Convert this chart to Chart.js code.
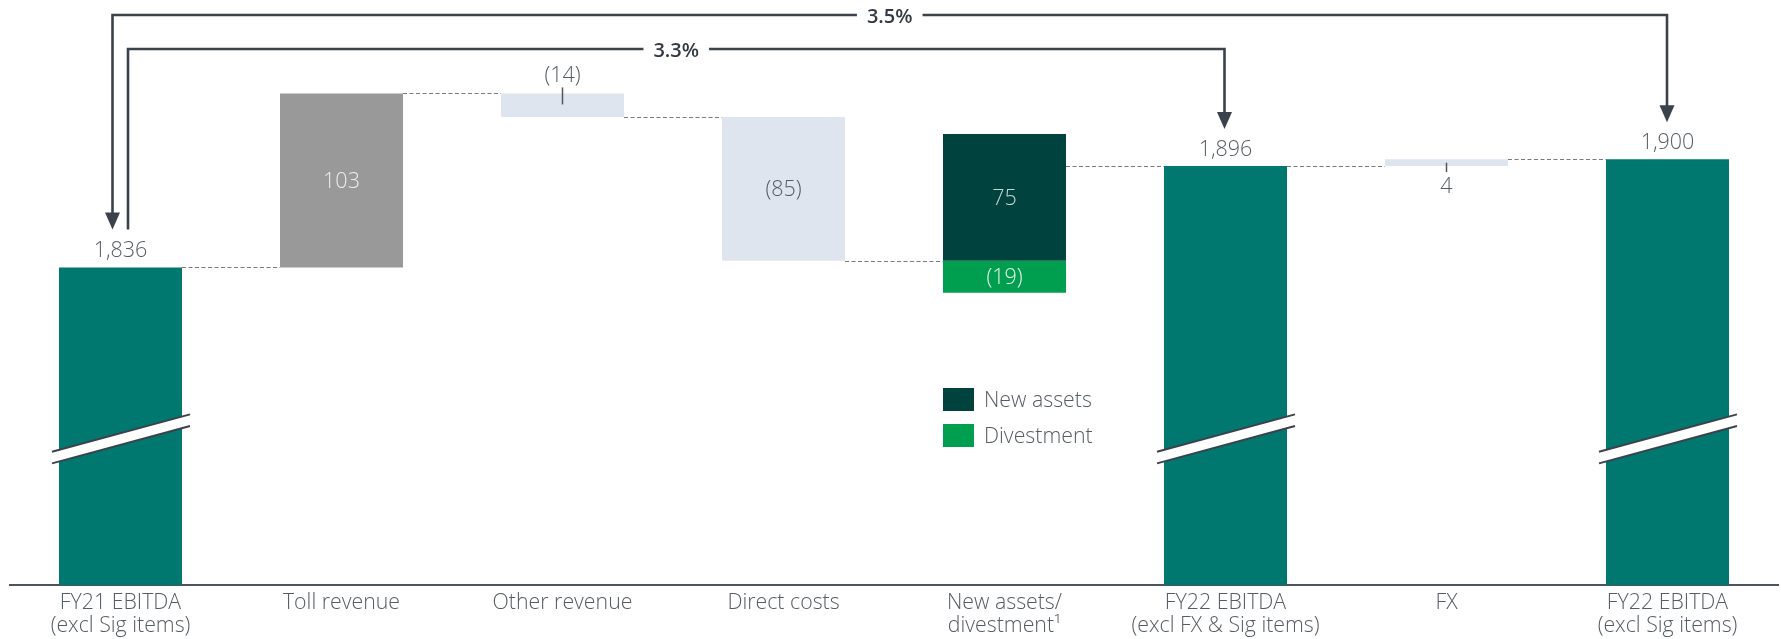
<!DOCTYPE html>
<html>
<head>
<meta charset="utf-8">
<script src="https://cdn.jsdelivr.net/npm/chart.js@4.4.1/dist/chart.umd.min.js"></script>
<style>
  html, body { margin: 0; padding: 0; background: #ffffff; }
  #wrap { width: 1781px; height: 639px; position: relative; }
</style>
</head>
<body>
<div id="wrap"><canvas id="c" width="1781" height="639"></canvas></div>
<script>
// ---------------- DATA ----------------
const categories = [
  ['FY21 EBITDA', '(excl Sig items)'],
  'Toll revenue',
  'Other revenue',
  'Direct costs',
  ['New assets/', 'divestment\u00B9'],
  ['FY22 EBITDA', '(excl FX & Sig items)'],
  'FX',
  ['FY22 EBITDA', '(excl Sig items)']
];
// totals (null = movement column)
const totalValues = [1836, null, null, null, null, 1896, null, 1900];
// movements for non-total columns (New assets column holds the new-assets part)
const movementValues = [null, 103, -14, -85, 75, null, 4, null];
// divestment part of the New assets/divestment column
const divestmentValues = [null, null, null, null, -19, null, null, null];
const legendLabels = ['New assets', 'Divestment'];
const growthLabels = ['3.3%', '3.5%'];
const axisFloor = 1648;      // broken axis starts here
const axisCeil = 1988.4;
const breakValue = 1734.5;   // where the axis-break mark sits on total bars

// ---------------- STYLE ----------------
const FONT = "'Open Sans', 'Noto Sans', sans-serif";
const TEAL = '#00786f', GREY = '#999999', PALE = '#dfe5ef', DARK = '#00423d', GREEN = '#009e4f';
const LINE = '#3a424b', TXT = '#555c63';
const barColors = [TEAL, GREY, PALE, PALE, DARK, TEAL, PALE, TEAL];

// ---------------- BUILD FLOATING BARS ----------------
const mainData = [], divData = [], levels = [];
let level = 0;
for (let i = 0; i < categories.length; i++) {
  if (totalValues[i] !== null) {
    mainData.push([axisFloor, totalValues[i]]);
    level = totalValues[i];
    divData.push(null);
  } else {
    const m = movementValues[i];
    mainData.push(m >= 0 ? [level, level + m] : [level + m, level]);
    if (divestmentValues[i] !== null) {
      const d = divestmentValues[i];
      divData.push([level + d, level]);
      level = level + m + d;
    } else {
      divData.push(null);
      level = level + m;
    }
  }
  levels.push(level);
}

function fmt(v) {
  const s = Math.abs(v).toLocaleString('en-US');
  return v < 0 ? '(' + s + ')' : s;
}

const overlay = {
  id: 'overlay',
  afterDatasetsDraw(chart) {
    const ctx = chart.ctx;
    const ys = chart.scales.y;
    const bars = chart.getDatasetMeta(0).data;
    const divBars = chart.getDatasetMeta(1).data;
    const ca = chart.chartArea;
    ctx.save();

    // connectors
    ctx.strokeStyle = '#7a7a7a';
    ctx.lineWidth = 1;
    ctx.setLineDash([4, 2.5]);
    for (let i = 0; i < bars.length - 1; i++) {
      const y = Math.round(ys.getPixelForValue(levels[i])) + 0.5;
      ctx.beginPath();
      ctx.moveTo(bars[i].x + bars[i].width / 2, y);
      ctx.lineTo(bars[i + 1].x - bars[i + 1].width / 2, y);
      ctx.stroke();
    }
    ctx.setLineDash([]);

    // break marks on total bars
    const yc = ys.getPixelForValue(breakValue);
    for (let i = 0; i < bars.length; i++) {
      if (totalValues[i] === null) continue;
      const L = bars[i].x - bars[i].width / 2 - 7;
      const R = bars[i].x + bars[i].width / 2 + 8;
      ctx.fillStyle = '#ffffff';
      ctx.beginPath();
      ctx.moveTo(L, yc + 12.9); ctx.lineTo(R, yc - 24.5);
      ctx.lineTo(R, yc - 12.9); ctx.lineTo(L, yc + 24.5);
      ctx.closePath(); ctx.fill();
      ctx.strokeStyle = LINE; ctx.lineWidth = 2;
      ctx.beginPath(); ctx.moveTo(L, yc + 12.9); ctx.lineTo(R, yc - 24.5); ctx.stroke();
      ctx.beginPath(); ctx.moveTo(L, yc + 24.5); ctx.lineTo(R, yc - 12.9); ctx.stroke();
    }

    // value labels
    ctx.font = '300 21.5px ' + FONT;
    ctx.textAlign = 'center';
    ctx.textBaseline = 'alphabetic';
    const text = (t, x, y, c) => { ctx.fillStyle = c; ctx.fillText(t, x, y); };
    const tick = (x, y1, y2) => {
      ctx.strokeStyle = '#555'; ctx.lineWidth = 1.5;
      ctx.beginPath(); ctx.moveTo(x, y1); ctx.lineTo(x, y2); ctx.stroke();
    };
    for (let i = 0; i < bars.length; i++) {
      const b = bars[i];
      const top = Math.min(b.y, b.base), bot = Math.max(b.y, b.base);
      const mid = (top + bot) / 2;
      if (totalValues[i] !== null) {
        text(fmt(totalValues[i]), b.x, top - 10, TXT);
      } else {
        const v = movementValues[i];
        const label = fmt(v);
        if (bot - top > 40) {
          let c = TXT;
          if (barColors[i] === GREY) c = '#ededed';
          if (barColors[i] === DARK) c = '#c9d6d3';
          text(label, b.x, mid + 7.5, c);
        } else if (v < 0) {
          tick(b.x, top - 6, top + 11);
          text(label, b.x, top - 11, TXT);
        } else {
          tick(b.x, mid, bot + 6);
          text(label, b.x, bot + 26.5, TXT);
        }
      }
      if (divestmentValues[i] !== null) {
        const d = divBars[i];
        const dm = (d.y + d.base) / 2;
        text(fmt(divestmentValues[i]), d.x, dm + 7.5, '#e6f4ea');
      }
    }

    // growth arrows
    const headW = 15, headH = 17;
    const head = (x, tip) => {
      ctx.fillStyle = LINE;
      ctx.beginPath();
      ctx.moveTo(x - headW / 2, tip - headH);
      ctx.lineTo(x + headW / 2, tip - headH);
      ctx.lineTo(x, tip);
      ctx.closePath(); ctx.fill();
    };
    const tip0 = ys.getPixelForValue(totalValues[0]) - 38;
    const tip1 = ys.getPixelForValue(totalValues[5]) - 37;
    const tip2 = ys.getPixelForValue(totalValues[7]) - 37;
    const xL35 = bars[0].x - 8, xL33 = bars[0].x + 7.5;
    const xR33 = bars[5].x - 1, xR35 = bars[7].x - 0.5;
    const y35 = ca.top + 5, y33 = ca.top + 39;
    ctx.strokeStyle = LINE; ctx.lineWidth = 2.6; ctx.lineJoin = 'miter';
    ctx.beginPath();
    ctx.moveTo(xL35, tip0 - headH + 1); ctx.lineTo(xL35, y35);
    ctx.lineTo(xR35, y35); ctx.lineTo(xR35, tip2 - headH + 1);
    ctx.stroke();
    ctx.beginPath();
    ctx.moveTo(xL33, tip0); ctx.lineTo(xL33, y33);
    ctx.lineTo(xR33, y33); ctx.lineTo(xR33, tip1 - headH + 1);
    ctx.stroke();
    head(xL35, tip0); head(xR35, tip2); head(xR33, tip1);

    ctx.font = '600 20px ' + FONT;
    const growthLabel = (t, x1, x2, y) => {
      const cx = (x1 + x2) / 2;
      const w = ctx.measureText(t).width;
      ctx.fillStyle = '#ffffff';
      ctx.fillRect(cx - w / 2 - 10, y - 6, w + 20, 12);
      ctx.fillStyle = '#333a44';
      ctx.fillText(t, cx, y + 8);
    };
    growthLabel(growthLabels[0], xL33, xR33, y33);
    growthLabel(growthLabels[1], xL35, xR35, y35);

    // legend
    const lx = bars[4].x - bars[4].width / 2;
    const ly = ca.top + 378;
    ctx.fillStyle = DARK; ctx.fillRect(lx, ly, 31, 23);
    ctx.fillStyle = GREEN; ctx.fillRect(lx, ly + 36, 31, 23);
    ctx.font = '300 21.3px ' + FONT;
    ctx.textAlign = 'left';
    ctx.fillStyle = TXT;
    ctx.fillText(legendLabels[0], lx + 41, ly + 19);
    ctx.fillText(legendLabels[1], lx + 41, ly + 55);

    ctx.restore();
  }
};

new Chart(document.getElementById('c'), {
  type: 'bar',
  data: {
    labels: categories,
    datasets: [
      { label: 'Main', data: mainData, backgroundColor: barColors, grouped: false,
        barPercentage: 0.5566, categoryPercentage: 1, borderWidth: 0, borderSkipped: false },
      { label: legendLabels[1], data: divData, backgroundColor: GREEN, grouped: false,
        barPercentage: 0.5566, categoryPercentage: 1, borderWidth: 0, borderSkipped: false }
    ]
  },
  options: {
    responsive: false,
    animation: false,
    devicePixelRatio: 1,
    layout: { padding: { top: 10, left: 10, right: 3, bottom: 0 } },
    plugins: { legend: { display: false }, tooltip: { enabled: false } },
    scales: {
      x: {
        afterFit(scale) { scale.height = 54; },
        grid: { display: false, drawTicks: false },
        border: { display: true, color: '#4d545c', width: 2 },
        ticks: {
          color: '#555c63', padding: 7, maxRotation: 0, autoSkip: false,
          font: { family: FONT, size: 21.3, weight: 300, lineHeight: 1.07 }
        }
      },
      y: { display: false, min: axisFloor, max: axisCeil }
    }
  },
  plugins: [overlay]
});
</script>
</body>
</html>
